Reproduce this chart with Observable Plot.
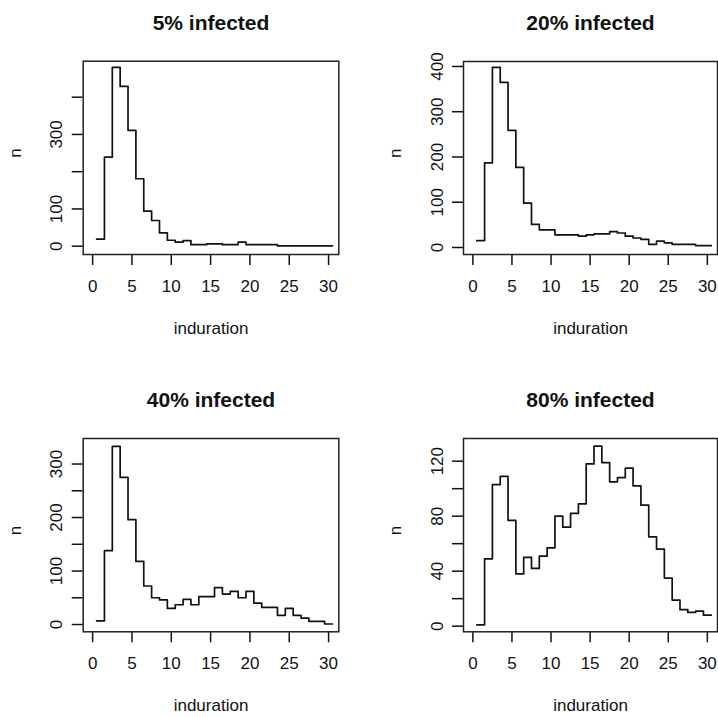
<!DOCTYPE html>
<html><head><meta charset="utf-8">
<script src="https://cdn.jsdelivr.net/npm/d3@7"></script>
<script src="https://cdn.jsdelivr.net/npm/@observablehq/plot@0.6"></script>
<style>
body{margin:0;background:#fff;}
#wrap{position:relative;width:718px;height:717px;overflow:hidden;background:#fff;}
#wrap svg{position:absolute;}
</style></head><body><div id="wrap"></div>
<script>
// induration categories (x)
const induration = [1,2,3,4,5,6,7,8,9,10,11,12,13,14,15,16,17,18,19,20,21,22,23,24,25,26,27,28,29,30];
// counts per panel
const infected5  = [19,239,480,429,311,181,94,69,36,16,11,15,4,4,6,6,4,4,11,4,4,4,4,1,1,1,1,1,1,1];
const infected20 = [15,187,398,365,259,177,98,51,39,39,28,28,28,25,28,30,30,35,32,25,21,18,7,14,10,7,7,7,4,4];
const infected40 = [7,138,333,275,196,118,72,50,46,30,37,47,37,52,52,69,57,62,50,62,40,32,32,17,30,17,12,6,6,1];
const infected80 = [1,49,103,109,77,38,50,42,51,57,80,72,82,89,118,131,119,105,108,115,102,88,65,56,35,19,12,10,11,8];

const titles = ["5% infected","20% infected","40% infected","80% infected"];
const xLabel = "induration";
const yLabel = "n";
const xTicks = [0,5,10,15,20,25,30];
const xTickLabels = ["0","5","10","15","20","25","30"];
const yTicks5 = [0,100,200,300,400];
const yTickLabels5 = ["0","100","","300",""];
const yTicks20 = [0,100,200,300,400];
const yTickLabels20 = ["0","100","200","300","400"];
const yTicks40 = [0,50,100,150,200,250,300];
const yTickLabels40 = ["0","","100","","200","","300"];
const yTicks80 = [0,20,40,60,80,100,120];
const yTickLabels80 = ["0","","40","","80","","120"];

const series = [infected5, infected20, infected40, infected80];
const yTicksAll = [yTicks5, yTicks20, yTicks40, yTicks80];
const yLabelsAll = [yTickLabels5, yTickLabels20, yTickLabels40, yTickLabels80];

// layout (not data)
const layout = [
  {left:0,   top:0,   width:359, height:358, ml:82.7, mr:20.7, mt:60.7, mb:104,  yDomain:[-22.3,496.6]},
  {left:359, top:0,   width:359, height:358, ml:104,  mr:1,    mt:61,   mb:104,  yDomain:[-15.5,411]},
  {left:0,   top:358, width:359, height:359, ml:82.7, mr:20.7, mt:80,   mb:85.7, yDomain:[-13.6,347.7]},
  {left:359, top:358, width:359, height:359, ml:104,  mr:1,    mt:80,   mb:85.7, yDomain:[-4.1,136.5]}
];

const wrap = document.getElementById("wrap");
const ink = "#111";

series.forEach((vals, k) => {
  const L = layout[k];
  const steps = [];
  induration.forEach((x, i) => {
    steps.push({x: x - 0.5, y: vals[i]});
    steps.push({x: x + 0.5, y: vals[i]});
  });
  const yt = yTicksAll[k], yl = yLabelsAll[k];
  const svg = Plot.plot({
    width: L.width, height: L.height,
    marginLeft: L.ml, marginRight: L.mr, marginTop: L.mt, marginBottom: L.mb,
    x: {domain: [-1.2, 31.3]},
    y: {domain: L.yDomain},
    style: {fontFamily: "'Liberation Sans', Arial, sans-serif", fontSize: "17px", background: "white", color: ink, overflow: "visible"},
    marks: [
      Plot.axisX({ticks: xTicks, tickSize: 11, tickPadding: 14, strokeWidth: 1.5, fontSize: 17,
        tickFormat: d => xTickLabels[xTicks.indexOf(d)], label: null}),
      Plot.axisY({ticks: yt, tickSize: 11, tickPadding: 10, tickRotate: -90, strokeWidth: 1.5, fontSize: 17,
        tickFormat: d => yl[yt.indexOf(d)], label: null}),
      Plot.line(steps, {x: "x", y: "y", stroke: ink, strokeWidth: 1.7}),
      Plot.frame({stroke: "#222", strokeWidth: 1.5}),
      Plot.text([titles[k]], {frameAnchor: "top", dy: -31.5, lineAnchor: "bottom", fontSize: 21, fontWeight: "bold", fill: ink}),
      Plot.text([xLabel], {frameAnchor: "bottom", dy: 79.5, lineAnchor: "bottom", fontSize: 17, fill: ink}),
      Plot.text([yLabel], {frameAnchor: "left", dx: -67.5, rotate: -90, lineAnchor: "middle", fontSize: 17, fill: ink})
    ]
  });
  svg.style.left = L.left + "px";
  svg.style.top = L.top + "px";
  wrap.appendChild(svg);
});
</script></body></html>
